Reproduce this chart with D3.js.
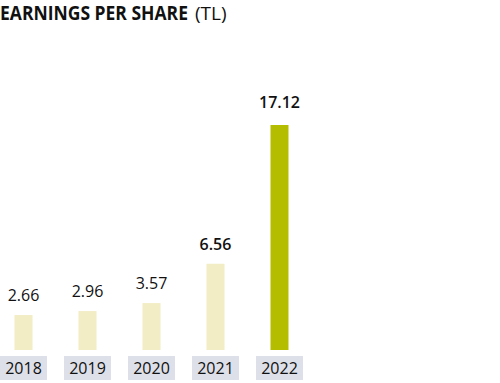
<!DOCTYPE html>
<html>
<head>
<meta charset="utf-8">
<script src="https://cdn.jsdelivr.net/npm/d3@7"></script>
<style>
  body { margin: 0; background: #fff; }
  svg { display: block; }
</style>
</head>
<body>
<div id="chartContainer"></div>
<script>
var years = ['2018', '2019', '2020', '2021', '2022']
var eps = [2.66, 2.96, 3.57, 6.56, 17.12]
var valueLabels = ['2.66', '2.96', '3.57', '6.56', '17.12']
var highlight = [false, false, false, false, true]
var boldLabel = [false, false, false, true, true]

var data = years.map(function(y, i) {
    return { year: y, value: eps[i], label: valueLabels[i], hi: highlight[i], bold: boldLabel[i] }
})

var width = 500, height = 383
var font = "'Open Sans', sans-serif"

var svg = d3.select('#chartContainer').append('svg')
    .attr('width', width)
    .attr('height', height)

// title: bold part squeezed horizontally to fit the condensed look of the original
var titleBold = svg.append('text')
    .attr('x', 0)
    .attr('y', 0)
    .style('font-family', font)
    .style('font-size', '19px')
    .style('font-weight', 'bold')
    .style('fill', '#111')
    .text('EARNINGS PER SHARE')
var natural = titleBold.node().getComputedTextLength()
titleBold.attr('transform', 'translate(0,20) scale(' + (188 / natural) + ',1)')

svg.append('text')
    .attr('x', 195)
    .attr('y', 20)
    .style('font-family', font)
    .style('font-size', '19px')
    .style('fill', '#111')
    .text('(TL)')

var xScale = d3.scaleBand()
    .domain(years)
    .range([0, 303])
    .paddingInner(17 / 64)
    .paddingOuter(0)

var yScale = d3.scaleLinear()
    .domain([0, 17.12])
    .range([350, 125])

var barW = 18

svg.selectAll('.bar')
    .data(data)
    .enter()
    .append('rect')
    .attr('class', 'bar')
    .attr('x', function(d) { return xScale(d.year) + xScale.bandwidth() / 2 - barW / 2 })
    .attr('y', function(d) { return yScale(d.value) })
    .attr('width', barW)
    .attr('height', function(d) { return yScale(0) - yScale(d.value) })
    .style('fill', function(d) { return d.hi ? '#b5bd00' : '#f2edc4' })

svg.selectAll('.val')
    .data(data)
    .enter()
    .append('text')
    .attr('class', 'val')
    .attr('x', function(d) { return xScale(d.year) + xScale.bandwidth() / 2 })
    .attr('y', function(d) { return yScale(d.value) - (d.hi ? 17 : 14) })
    .attr('text-anchor', 'middle')
    .style('font-family', font)
    .style('font-size', '16px')
    .style('font-weight', function(d) { return d.bold ? 600 : 400 })
    .style('fill', '#111')
    .text(function(d) { return d.label })

// year boxes
svg.selectAll('.yearBox')
    .data(data)
    .enter()
    .append('rect')
    .attr('class', 'yearBox')
    .attr('x', function(d) { return xScale(d.year) })
    .attr('y', 356)
    .attr('width', xScale.bandwidth())
    .attr('height', 24)
    .style('fill', '#dde0e8')

svg.selectAll('.yearLabel')
    .data(data)
    .enter()
    .append('text')
    .attr('class', 'yearLabel')
    .attr('x', function(d) { return xScale(d.year) + xScale.bandwidth() / 2 })
    .attr('y', 374)
    .attr('text-anchor', 'middle')
    .style('font-family', font)
    .style('font-size', '16px')
    .style('fill', '#111')
    .text(function(d) { return d.year })
</script>
</body>
</html>
